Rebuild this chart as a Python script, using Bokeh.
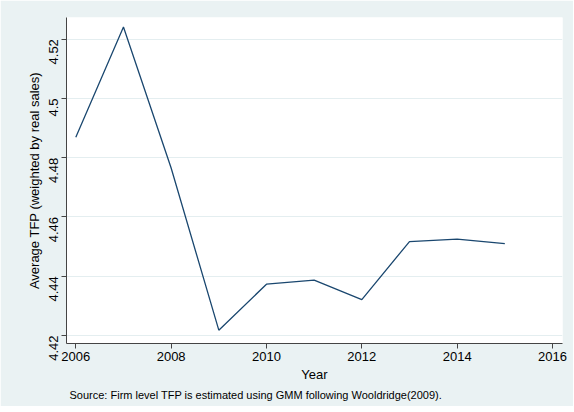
import math
from bokeh.plotting import figure
from bokeh.models import Range1d, FixedTicker, Title
from bokeh.embed import file_html
from bokeh.resources import INLINE

years = [2006, 2007, 2008, 2009, 2010, 2011, 2012, 2013, 2014, 2015]
tfp = [4.4869, 4.5241, 4.4765, 4.4218, 4.4373, 4.4387, 4.4321, 4.4517, 4.4525, 4.4510]

x_ticks = [2006, 2008, 2010, 2012, 2014, 2016]
y_ticks = [4.42, 4.44, 4.46, 4.48, 4.50, 4.52]
y_tick_labels = ["4.42", "4.44", "4.46", "4.48", "4.5", "4.52"]

x_label = "Year"
y_label = "Average TFP (weighted by real sales)"
note = "Source: Firm level TFP is estimated using GMM following Wooldridge(2009)."

BG = "#EAF2F3"
FONT = "Liberation Sans"

p = figure(frame_width=496, frame_height=326,
           x_range=Range1d(2005.805, 2016.21), y_range=Range1d(4.4173, 4.5273),
           output_backend="svg", toolbar_location=None,
           min_border_left=66, min_border_top=17, min_border_right=11, min_border_bottom=63)
p.background_fill_color = "white"
p.border_fill_color = BG
p.outline_line_color = None

p.line(years, tfp, line_color="#1A476F", line_width=1.3)

p.xgrid.visible = False
p.ygrid.grid_line_color = "#E4EEF0"
p.ygrid.grid_line_width = 1.2
p.ygrid.ticker = FixedTicker(ticks=y_ticks)

for ax in (p.xaxis[0], p.yaxis[0]):
    ax.axis_line_color = "#444444"
    ax.major_tick_line_color = "#444444"
    ax.major_tick_out = 5
    ax.major_tick_in = 0
    ax.minor_tick_line_color = None
    ax.major_label_text_font = FONT
    ax.major_label_text_font_size = "13px"
    ax.major_label_text_color = "black"
    ax.axis_label_text_font = FONT
    ax.axis_label_text_font_size = "13px"
    ax.axis_label_text_font_style = "normal"
    ax.axis_label_text_color = "black"

p.xaxis.ticker = FixedTicker(ticks=x_ticks)
p.xaxis.axis_label = x_label
p.xaxis.major_label_standoff = 3
p.xaxis.axis_label_standoff = 3

p.yaxis.ticker = FixedTicker(ticks=y_ticks)
p.yaxis.major_label_overrides = {t: l for t, l in zip(y_ticks, y_tick_labels)}
p.yaxis.major_label_orientation = math.pi / 2
p.yaxis.axis_label = y_label
p.yaxis.major_label_standoff = 8
p.yaxis.axis_label_standoff = 0

p.add_layout(Title(text=note, align="left", offset=3, standoff=5, text_font=FONT,
                   text_font_size="11px", text_font_style="normal",
                   text_color="black"), "below")

open("out.html", "w").write(file_html(p, INLINE))
